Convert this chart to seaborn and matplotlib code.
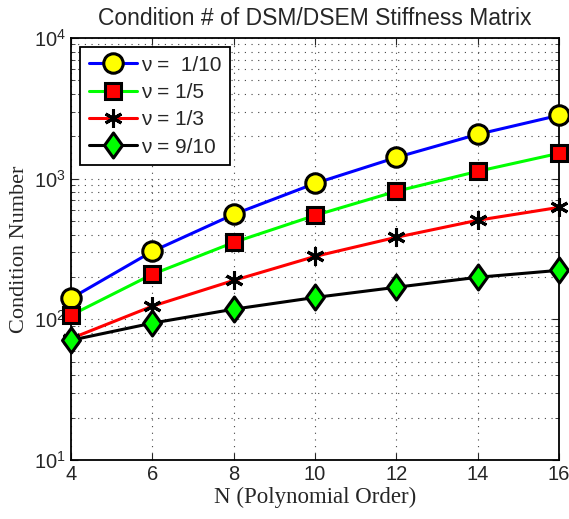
import numpy as np
import pandas as pd
import matplotlib
matplotlib.use("Agg")
import matplotlib.pyplot as plt
import seaborn as sns
from matplotlib.ticker import LogLocator, NullFormatter
from matplotlib.path import Path

N = [4, 6, 8, 10, 12, 14, 16]
nu_10 = [141, 304, 557, 925, 1415, 2066, 2820]
nu_5 = [107, 209, 352, 548, 813, 1127, 1514]
nu_3 = [73, 124, 189, 280, 383, 506, 625]
nu_9_10 = [71, 94, 118, 143, 169, 199, 223]
labels = ["ν =  1/10", "ν = 1/5", "ν = 1/3", "ν = 9/10"]

sns.set_style("ticks")
plt.rcParams["font.family"] = ["Liberation Sans", "DejaVu Sans"]

fig = plt.figure(figsize=(5.69, 5.19), dpi=100)
ax = fig.add_axes([0.1248, 0.1137, 0.8576, 0.8131])

diamond = Path([(0, 1), (0.72, 0), (0, -1), (-0.72, 0), (0, 1)],
               [Path.MOVETO, Path.LINETO, Path.LINETO, Path.LINETO, Path.CLOSEPOLY])

series = [nu_10, nu_5, nu_3, nu_9_10]
styles = [
    dict(color="#0000ff", marker="o", markersize=14, markerfacecolor="#ffff00"),
    dict(color="#00ff00", marker="s", markersize=11, markerfacecolor="#ff0000"),
    dict(color="#ff0000", marker=(6, 2, 0), markersize=13, markerfacecolor="black"),
    dict(color="black", marker=diamond, markersize=18, markerfacecolor="#00ff00"),
]
for vals, lab, st in zip(series, labels, styles):
    df = pd.DataFrame({"N": N, "cond": vals})
    sns.lineplot(data=df, x="N", y="cond", ax=ax, label=lab, linewidth=2.2,
                 color=st["color"], marker=st["marker"], markersize=st["markersize"],
                 markerfacecolor=st["markerfacecolor"], markeredgecolor="black",
                 markeredgewidth=2.2, clip_on=False, zorder=3)

ax.set_yscale("log")
ax.set_xlim(4, 16)
ax.set_ylim(10, 10000)
ax.set_xticks(N)
ax.yaxis.set_major_locator(LogLocator(base=10, numticks=10))
ax.yaxis.set_minor_locator(LogLocator(base=10, subs=np.arange(2, 10), numticks=20))
ax.yaxis.set_minor_formatter(NullFormatter())
gridstyle = dict(linestyle=(0, (1, 5)), color="#444444", linewidth=0.8)
ax.grid(True, which="major", **gridstyle)
ax.grid(True, which="minor", axis="y", **gridstyle)
ax.tick_params(which="both", direction="in", top=True, right=True, labelsize=14.5)
ax.tick_params(which="major", length=5)
ax.tick_params(which="minor", length=3)
for s in ax.spines.values():
    s.set_linewidth(1.3)
    s.set_color("black")

ax.set_title("Condition # of DSM/DSEM Stiffness Matrix", fontsize=16.5, pad=9)
ax.set_xlabel("N (Polynomial Order)", fontsize=16.5, family=["Liberation Serif", "DejaVu Serif"], labelpad=2)
ax.set_ylabel("Condition Number", fontsize=16, family=["Liberation Serif", "DejaVu Serif"], labelpad=4)

leg = ax.legend(loc="upper left", fontsize=15, frameon=True, fancybox=False,
                edgecolor="black", framealpha=1, handlelength=2.3, borderpad=0.4,
                labelspacing=0.4, handletextpad=0.2, borderaxespad=0.45)
leg.get_frame().set_linewidth(1.3)

fig.savefig("out.png", dpi=100)
